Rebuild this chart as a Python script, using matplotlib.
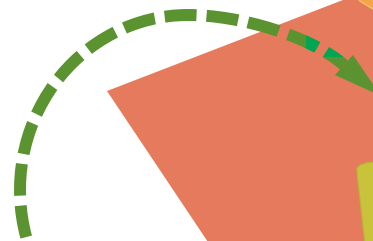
import numpy as np
import matplotlib
matplotlib.use("Agg")
import matplotlib.pyplot as plt
from matplotlib.path import Path
from matplotlib.patches import Polygon, PathPatch, Rectangle
from matplotlib.transforms import Affine2D

plt.rcParams["lines.scale_dashes"] = False

# ---- shape geometry (canvas pixel units, y pointing down) ----
salmon_x = [107, 400, 400, 220]
salmon_y = [91, -22, 260, 260]
orange_x = [358, 380, 380, 373, 368, 363, 360]
orange_y = [-1, -1, 12, 9, 6, 3, 1]
lime_x = [380, 366, 360, 357, 357, 365, 380]
lime_y = [161, 163, 165, 168, 173, 245, 245]

arc_center = (188, 190)
arc_radii = (168, 175)
arc_angles = (90, 195.6)
curve_x = [240, 310, 344]
curve_y = [15, 36, 65]
head_x = [353, 381, 335]
head_y = [55, 96, 75]
highlight_box = (306, 0, 37, 57)

salmon = "#E57B5C"
olive = "#5B9330"
bright = "#00A651"
orange = "#F4A647"
lime = "#C9C23B"

fig = plt.figure(figsize=(3.73, 2.41), dpi=100)
ax = fig.add_axes([0, 0, 1, 1])
ax.set_xlim(0, 373)
ax.set_ylim(241, 0)
ax.axis("off")

ax.add_patch(Polygon(np.column_stack([salmon_x, salmon_y]), closed=True,
                     facecolor=salmon, edgecolor="none", zorder=1))
ax.add_patch(Polygon(np.column_stack([orange_x, orange_y]), closed=True,
                     facecolor=orange, edgecolor="#F7C272", lw=1, zorder=2))
ax.add_patch(Polygon(np.column_stack([lime_x, lime_y]), closed=True,
                     facecolor=lime, edgecolor="#B9B236", lw=0.8, zorder=2))

# curved dashed arrow path: elliptical arc + cubic bezier
arc = Path.arc(*arc_angles)
tr = Affine2D().scale(arc_radii[0], -arc_radii[1]).translate(*arc_center)
arc_v = tr.transform(arc.vertices)[::-1]
verts = np.vstack([arc_v, np.column_stack([curve_x, curve_y])])
codes = [Path.MOVETO] + [Path.CURVE4] * (len(verts) - 1)
path = Path(verts, codes)

dash = (0, (23.0, 7.2))
lw = 8.6
ax.add_patch(PathPatch(path, facecolor="none", edgecolor=olive, lw=lw,
                       linestyle=dash, capstyle="butt", zorder=3))
hp = PathPatch(path, facecolor="none", edgecolor=bright, lw=lw,
               linestyle=dash, capstyle="butt", zorder=4)
ax.add_patch(hp)
clip = Rectangle(highlight_box[:2], highlight_box[2], highlight_box[3],
                 transform=ax.transData)
hp.set_clip_path(clip)

ax.add_patch(Polygon(np.column_stack([head_x, head_y]), closed=True,
                     facecolor=olive, edgecolor="none", zorder=5))

fig.savefig("out.png", dpi=100)
